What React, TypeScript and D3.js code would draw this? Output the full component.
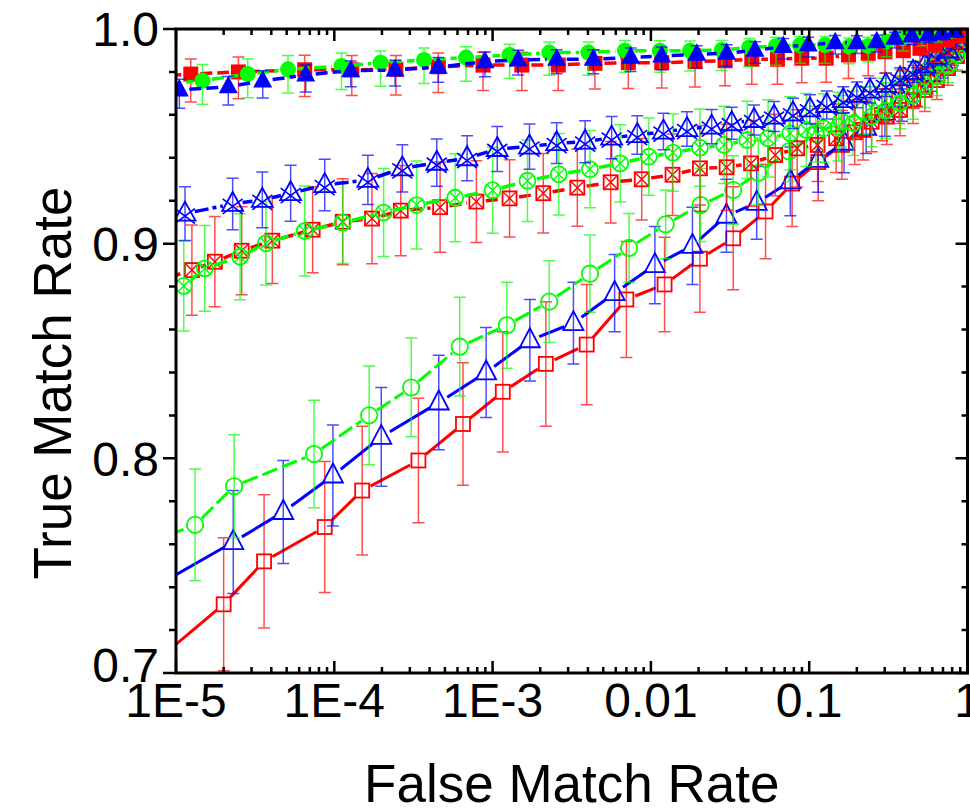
import React from 'react';
import * as d3 from 'd3';

const W = 970;
const H = 811;
const X0 = 176, X1 = 967.5, Y0 = 29, Y1 = 673;

// ---------- DATA (FMR, TMR, error half-widths) ----------
// Open squares (red, solid)
const redOpenFmr = [7.9e-6, 2.0e-5, 3.6e-5, 8.7e-5, 1.5e-4, 3.4e-4, 6.5e-4, 1.16e-3, 2.17e-3, 3.93e-3, 7.0e-3, 1.22e-2, 2.04e-2, 3.31e-2, 5.3e-2, 7.8e-2, 0.114, 0.161, 0.219, 0.288, 0.369, 0.459, 0.562, 0.67, 0.787, 0.897, 0.978];
const redOpenTmr = [0.707, 0.732, 0.752, 0.768, 0.785, 0.799, 0.816, 0.831, 0.844, 0.853, 0.874, 0.881, 0.893, 0.9025, 0.915, 0.928, 0.938, 0.946, 0.953, 0.96, 0.967, 0.973, 0.979, 0.984, 0.989, 0.994, 0.998];
const redOpenErr = [0.031, 0.031, 0.031, 0.0305, 0.03, 0.029, 0.0285, 0.028, 0.029, 0.028, 0.027, 0.022, 0.025, 0.024, 0.022, 0.02, 0.018, 0.016, 0.014, 0.012, 0.011, 0.01, 0.009, 0.008, 0.007, 0.005, 0.004];

// Open triangles (blue, solid)
const blueOpenFmr = [7.9e-6, 2.3e-5, 4.76e-5, 9.8e-5, 1.98e-4, 4.57e-4, 9.1e-4, 1.72e-3, 3.24e-3, 5.9e-3, 1.06e-2, 1.83e-2, 3.0e-2, 4.66e-2, 7.6e-2, 0.114, 0.166, 0.229, 0.301, 0.386, 0.48, 0.588, 0.7, 0.81, 0.91, 0.99];
const blueOpenTmr = [0.7415, 0.761, 0.775, 0.792, 0.81, 0.826, 0.84, 0.855, 0.863, 0.877, 0.89, 0.899, 0.913, 0.919, 0.929, 0.939, 0.947, 0.954, 0.961, 0.967, 0.973, 0.979, 0.984, 0.989, 0.994, 0.998];
const blueOpenErr = [0.024, 0.024, 0.024, 0.0235, 0.023, 0.022, 0.021, 0.019, 0.019, 0.018, 0.018, 0.018, 0.017, 0.017, 0.016, 0.015, 0.014, 0.012, 0.011, 0.01, 0.009, 0.008, 0.007, 0.006, 0.005, 0.004];

// Open circles (green, dashed)
const greenOpenFmr = [7.9e-6, 1.32e-5, 2.33e-5, 7.45e-5, 1.66e-4, 3.06e-4, 6.2e-4, 1.23e-3, 2.28e-3, 4.12e-3, 7.28e-3, 1.24e-2, 2.06e-2, 3.31e-2, 4.77e-2, 7.45e-2, 0.11, 0.159, 0.219, 0.292, 0.375, 0.473, 0.58, 0.69, 0.8, 0.91, 0.99];
const greenOpenTmr = [0.7626, 0.769, 0.787, 0.802, 0.82, 0.833, 0.852, 0.862, 0.873, 0.886, 0.898, 0.909, 0.918, 0.925, 0.933, 0.943, 0.951, 0.957, 0.962, 0.967, 0.972, 0.977, 0.982, 0.986, 0.99, 0.994, 0.998];
const greenOpenErr = [0.026, 0.026, 0.024, 0.025, 0.023, 0.023, 0.023, 0.02, 0.019, 0.018, 0.016, 0.016, 0.017, 0.016, 0.015, 0.014, 0.013, 0.012, 0.011, 0.01, 0.009, 0.008, 0.007, 0.006, 0.005, 0.004, 0.003];

// Crossed squares (red, dashed)
const redXFmr = [7.9e-6, 1.26e-5, 1.76e-5, 2.6e-5, 4.06e-5, 7.3e-5, 1.13e-4, 1.73e-4, 2.63e-4, 4.66e-4, 7.9e-4, 1.28e-3, 2.09e-3, 3.43e-3, 5.57e-3, 8.75e-3, 1.37e-2, 2.04e-2, 3.01e-2, 4.29e-2, 6.1e-2, 8.4e-2, 0.113, 0.148, 0.194, 0.248, 0.309, 0.375, 0.453, 0.538, 0.641, 0.753, 0.859, 0.95];
const redXTmr = [0.883, 0.8877, 0.8916, 0.8967, 0.9014, 0.9065, 0.9102, 0.9117, 0.9154, 0.917, 0.9196, 0.9211, 0.9235, 0.9261, 0.9286, 0.93, 0.9321, 0.9351, 0.9356, 0.9374, 0.9413, 0.9444, 0.946, 0.9491, 0.9519, 0.9568, 0.9592, 0.9623, 0.967, 0.9716, 0.9762, 0.9818, 0.9874, 0.9925];
const redXErr = [0.021, 0.021, 0.021, 0.0205, 0.02, 0.02, 0.02, 0.021, 0.021, 0.021, 0.019, 0.018, 0.0185, 0.018, 0.019, 0.019, 0.019, 0.02, 0.02, 0.02, 0.019, 0.018, 0.017, 0.016, 0.015, 0.014, 0.013, 0.012, 0.011, 0.01, 0.009, 0.008, 0.007, 0.006];

// Crossed circles (green, dashed)
const greenXFmr = [1.12e-5, 1.52e-5, 2.54e-5, 3.7e-5, 6.5e-5, 1.13e-4, 2.05e-4, 3.31e-4, 5.8e-4, 1.0e-3, 1.66e-3, 2.62e-3, 4.12e-3, 6.4e-3, 9.7e-3, 1.38e-2, 2.04e-2, 2.9e-2, 4.06e-2, 5.5e-2, 7.6e-2, 9.6e-2, 0.123, 0.153, 0.19, 0.248, 0.305, 0.375, 0.453, 0.538, 0.641, 0.753, 0.859, 0.95];
const greenXTmr = [0.8803, 0.8885, 0.8939, 0.9002, 0.9059, 0.9098, 0.9145, 0.918, 0.9214, 0.9249, 0.9293, 0.9323, 0.9347, 0.9374, 0.9405, 0.9424, 0.9447, 0.946, 0.9483, 0.9491, 0.9514, 0.953, 0.9538, 0.9545, 0.9561, 0.9592, 0.962, 0.9655, 0.969, 0.9734, 0.978, 0.983, 0.988, 0.994];
const greenXErr = [0.021, 0.02, 0.02, 0.0195, 0.021, 0.019, 0.0205, 0.0205, 0.0205, 0.02, 0.019, 0.019, 0.018, 0.018, 0.018, 0.018, 0.018, 0.018, 0.018, 0.018, 0.017, 0.017, 0.016, 0.016, 0.015, 0.014, 0.013, 0.012, 0.011, 0.01, 0.009, 0.008, 0.007, 0.006];

// Crossed triangles (blue, dash-dot)
const blueXFmr = [1.14e-5, 2.28e-5, 3.51e-5, 5.3e-5, 8.7e-5, 1.63e-4, 2.69e-4, 4.44e-4, 6.9e-4, 1.07e-3, 1.71e-3, 2.54e-3, 3.84e-3, 5.65e-3, 8.2e-3, 1.2e-2, 1.69e-2, 2.42e-2, 3.24e-2, 4.48e-2, 6.0e-2, 7.9e-2, 0.101, 0.129, 0.164, 0.2, 0.242, 0.305, 0.375, 0.453, 0.538, 0.641, 0.753, 0.859, 0.95];
const blueXTmr = [0.914, 0.9185, 0.9204, 0.9235, 0.9273, 0.9297, 0.9351, 0.9377, 0.9398, 0.9441, 0.9452, 0.9468, 0.9475, 0.9494, 0.9506, 0.9522, 0.9534, 0.9545, 0.9561, 0.9576, 0.9592, 0.9607, 0.9626, 0.9646, 0.9669, 0.9693, 0.9713, 0.974, 0.977, 0.98, 0.983, 0.987, 0.99, 0.994, 0.997];
const blueXErr = [0.0125, 0.012, 0.013, 0.013, 0.012, 0.0115, 0.011, 0.011, 0.0105, 0.0105, 0.0105, 0.0095, 0.0098, 0.0098, 0.009, 0.0085, 0.008, 0.008, 0.0075, 0.007, 0.007, 0.007, 0.0068, 0.0065, 0.0062, 0.006, 0.0058, 0.0055, 0.005, 0.0048, 0.0045, 0.004, 0.0035, 0.003, 0.0025];

// Filled squares (red, dashed)
const redFilledFmr = [7.9e-6, 1.24e-5, 2.48e-5, 6.5e-5, 1.29e-4, 2.45e-4, 4.54e-4, 8.7e-4, 1.53e-3, 2.6e-3, 4.43e-3, 7.2e-3, 1.17e-2, 1.9e-2, 2.94e-2, 4.34e-2, 6.3e-2, 8.97e-2, 0.128, 0.177, 0.236, 0.301, 0.393, 0.501, 0.624, 0.753, 0.871, 0.964];
const redFilledTmr = [0.978, 0.979, 0.98, 0.981, 0.981, 0.9812, 0.9824, 0.9832, 0.9832, 0.9832, 0.984, 0.9843, 0.9843, 0.9848, 0.9852, 0.9859, 0.9859, 0.9864, 0.9864, 0.9879, 0.9887, 0.9894, 0.9899, 0.991, 0.9925, 0.995, 0.997, 0.999];
const redFilledErrUp = [0.007, 0.007, 0.007, 0.0068, 0.0066, 0.0065, 0.0064, 0.006, 0.006, 0.006, 0.006, 0.006, 0.006, 0.006, 0.006, 0.0058, 0.0058, 0.0056, 0.0055, 0.0052, 0.005, 0.0048, 0.0045, 0.004, 0.0035, 0.003, 0.002, 0.001];
const redFilledErrDown = [0.013, 0.013, 0.0125, 0.0125, 0.012, 0.012, 0.012, 0.0118, 0.0118, 0.0118, 0.012, 0.012, 0.0118, 0.0118, 0.0116, 0.0116, 0.0116, 0.0114, 0.0112, 0.011, 0.0105, 0.01, 0.0095, 0.009, 0.008, 0.007, 0.006, 0.005];

// Filled circles (green, dashed)
const greenFilledFmr = [7.9e-6, 1.47e-5, 2.84e-5, 5.1e-5, 1.11e-4, 1.96e-4, 3.69e-4, 6.8e-4, 1.28e-3, 2.28e-3, 4.03e-3, 6.86e-3, 1.14e-2, 1.77e-2, 2.8e-2, 4.17e-2, 6.17e-2, 8.75e-2, 0.126, 0.179, 0.236, 0.309, 0.392, 0.514, 0.638, 0.776];
const greenFilledTmr = [0.9742, 0.9759, 0.979, 0.9812, 0.9828, 0.9843, 0.9856, 0.9867, 0.9879, 0.989, 0.989, 0.9899, 0.9899, 0.9899, 0.9902, 0.9914, 0.9921, 0.9925, 0.9925, 0.9918, 0.9921, 0.9941, 0.9958, 0.9972, 0.998, 0.999];
const greenFilledErrUp = [0.0076, 0.0076, 0.007, 0.0065, 0.006, 0.0055, 0.0055, 0.005, 0.005, 0.005, 0.005, 0.0048, 0.0046, 0.0045, 0.0045, 0.0042, 0.004, 0.004, 0.004, 0.004, 0.004, 0.0035, 0.003, 0.0025, 0.002, 0.001];
const greenFilledErrDown = [0.011, 0.011, 0.011, 0.011, 0.011, 0.011, 0.011, 0.011, 0.011, 0.0105, 0.0105, 0.01, 0.01, 0.0095, 0.0095, 0.009, 0.009, 0.0085, 0.0085, 0.008, 0.0075, 0.007, 0.006, 0.005, 0.004, 0.003];

// Filled triangles (blue, dashed)
const blueFilledFmr = [1.05e-5, 2.14e-5, 3.53e-5, 6.6e-5, 1.27e-4, 2.42e-4, 4.54e-4, 8.95e-4, 1.45e-3, 2.54e-3, 4.33e-3, 7.45e-3, 1.17e-2, 1.95e-2, 3.01e-2, 4.55e-2, 6.86e-2, 9.86e-2, 0.146, 0.2, 0.267, 0.348, 0.444, 0.565, 0.687, 0.834];
const blueFilledTmr = [0.9716, 0.9731, 0.9758, 0.9786, 0.9806, 0.9809, 0.9822, 0.9848, 0.9856, 0.9859, 0.9859, 0.9868, 0.9874, 0.9882, 0.9887, 0.9901, 0.9918, 0.9925, 0.9936, 0.9936, 0.9941, 0.9957, 0.9967, 0.9972, 0.998, 0.999];
const blueFilledErrUp = [0.005, 0.0048, 0.0048, 0.0046, 0.0045, 0.0045, 0.0045, 0.0045, 0.0045, 0.0044, 0.0044, 0.0043, 0.0042, 0.004, 0.004, 0.004, 0.0038, 0.0036, 0.0034, 0.0032, 0.003, 0.0028, 0.0025, 0.002, 0.0015, 0.001];
const blueFilledErrDown = [0.0085, 0.0085, 0.008, 0.008, 0.0075, 0.0075, 0.007, 0.007, 0.007, 0.0068, 0.0068, 0.0066, 0.0064, 0.0062, 0.006, 0.006, 0.0058, 0.0055, 0.0052, 0.005, 0.0048, 0.0045, 0.004, 0.0035, 0.003, 0.0025];

// Axes
const yTickValues = [0.7, 0.8, 0.9, 1.0];
const yTickLabels = ['0.7', '0.8', '0.9', '1.0'];
const xTickValues = [1e-5, 1e-4, 1e-3, 1e-2, 1e-1, 1];
const xTickLabels = ['1E-5', '1E-4', '1E-3', '0.01', '0.1', '1'];
const xTitle = 'False Match Rate';
const yTitle = 'True Match Rate';

const RED = '#ff0000';
const GREEN = '#00ff00';
const BLUE = '#0000ff';

type Kind = 'sqF' | 'ciF' | 'trF' | 'sqO' | 'ciO' | 'trO' | 'sqX' | 'ciX' | 'trX';

interface Series {
  color: string;
  kind: Kind;
  fmr: number[];
  tmr: number[];
  up: number[];
  down: number[];
  dash: string;
  width: number;
}

const seriesList: Series[] = [
  { color: RED, kind: 'sqO', fmr: redOpenFmr, tmr: redOpenTmr, up: redOpenErr, down: redOpenErr, dash: '', width: 3 },
  { color: BLUE, kind: 'trO', fmr: blueOpenFmr, tmr: blueOpenTmr, up: blueOpenErr, down: blueOpenErr, dash: '', width: 3 },
  { color: GREEN, kind: 'ciO', fmr: greenOpenFmr, tmr: greenOpenTmr, up: greenOpenErr, down: greenOpenErr, dash: '16,5', width: 3 },
  { color: RED, kind: 'sqX', fmr: redXFmr, tmr: redXTmr, up: redXErr, down: redXErr, dash: '12,5', width: 3.5 },
  { color: GREEN, kind: 'ciX', fmr: greenXFmr, tmr: greenXTmr, up: greenXErr, down: greenXErr, dash: '14,5', width: 3.5 },
  { color: BLUE, kind: 'trX', fmr: blueXFmr, tmr: blueXTmr, up: blueXErr, down: blueXErr, dash: '14,4,4,4', width: 3.5 },
  { color: RED, kind: 'sqF', fmr: redFilledFmr, tmr: redFilledTmr, up: redFilledErrUp, down: redFilledErrDown, dash: '12,5', width: 3.5 },
  { color: GREEN, kind: 'ciF', fmr: greenFilledFmr, tmr: greenFilledTmr, up: greenFilledErrUp, down: greenFilledErrDown, dash: '12,5', width: 3.5 },
  { color: BLUE, kind: 'trF', fmr: blueFilledFmr, tmr: blueFilledTmr, up: blueFilledErrUp, down: blueFilledErrDown, dash: '12,5', width: 3.5 },
];

const xScale = d3.scaleLog().domain([1e-5, 1]).range([X0, X1]);
const yScale = d3.scaleLinear().domain([0.7, 1.0]).range([Y1, Y0]);

function gapOf(kind: Kind): number {
  if (kind.startsWith('tr')) return 10;
  return 9.5;
}

function Marker({ kind, color, x, y }: { kind: Kind; color: string; x: number; y: number }) {
  const sw = 1.8;
  const t = `translate(${x},${y})`;
  switch (kind) {
    case 'sqF':
      return <rect transform={t} x={-7.5} y={-7.5} width={15} height={15} fill={color} />;
    case 'ciF':
      return <circle transform={t} r={8} fill={color} />;
    case 'trF':
      return <path transform={t} d="M0,-11L9.5,6.5L-9.5,6.5Z" fill={color} />;
    case 'sqO':
      return <rect transform={t} x={-7} y={-7} width={14} height={14} fill="none" stroke={color} strokeWidth={sw} />;
    case 'ciO':
      return <circle transform={t} r={8.2} fill="none" stroke={color} strokeWidth={sw} />;
    case 'trO':
      return <path transform={t} d="M0,-12L10,7L-10,7Z" fill="none" stroke={color} strokeWidth={sw} />;
    case 'sqX':
      return (
        <g transform={t} fill="none" stroke={color} strokeWidth={sw}>
          <rect x={-7} y={-7} width={14} height={14} />
          <path d="M-7,-7L7,7M7,-7L-7,7" strokeWidth={1.4} />
        </g>
      );
    case 'ciX':
      return (
        <g transform={t} fill="none" stroke={color} strokeWidth={sw}>
          <circle r={8} />
          <path d="M-5.7,-5.7L5.7,5.7M5.7,-5.7L-5.7,5.7" strokeWidth={1.4} />
        </g>
      );
    case 'trX':
      return (
        <g transform={t} fill="none" stroke={color} strokeWidth={sw}>
          <path d="M0,-12L10.5,7L-10.5,7Z" />
          <path d="M-10,-5L10,10M10,-5L-10,10" strokeWidth={1.6} />
        </g>
      );
  }
  return null;
}

function SeriesView({ s }: { s: Series }) {
  const pts = s.fmr.map((f, i) => ({ x: xScale(f), y: yScale(s.tmr[i]), i }));
  const gap = gapOf(s.kind);
  const segs: string[] = [];
  for (let i = 0; i < pts.length - 1; i++) {
    const p = pts[i], q = pts[i + 1];
    const dx = q.x - p.x, dy = q.y - p.y;
    const d = Math.hypot(dx, dy);
    if (d <= 2 * gap + 1) continue;
    const ux = dx / d, uy = dy / d;
    const path = d3.path();
    path.moveTo(p.x + ux * gap, p.y + uy * gap);
    path.lineTo(q.x - ux * gap, q.y - uy * gap);
    segs.push(path.toString());
  }
  const cap = 6;
  return (
    <g>
      <g stroke={s.color} strokeOpacity={0.7} strokeWidth={1.5} fill="none">
        {pts.map((p) => {
          const yt = yScale(s.tmr[p.i] + s.up[p.i]);
          const yb = yScale(s.tmr[p.i] - s.down[p.i]);
          return (
            <path key={p.i} d={`M${p.x},${yt}V${yb}M${p.x - cap},${yt}H${p.x + cap}M${p.x - cap},${yb}H${p.x + cap}`} />
          );
        })}
      </g>
      <g stroke={s.color} strokeWidth={s.width} fill="none" strokeDasharray={s.dash || undefined}>
        {segs.map((d, i) => (
          <path key={i} d={d} />
        ))}
      </g>
      <g>
        {pts.map((p) => (
          <Marker key={p.i} kind={s.kind} color={s.color} x={p.x} y={p.y} />
        ))}
      </g>
    </g>
  );
}

export default function App() {
  const font = "'Liberation Sans', Arial, Helvetica, sans-serif";
  const majorX = xTickValues;
  const minorX: number[] = [];
  for (let e = -5; e < 0; e++) for (let k = 2; k <= 9; k++) minorX.push(k * Math.pow(10, e));
  const minorY = d3.range(0.72, 1.0, 0.02).filter((v) => Math.abs(v * 10 - Math.round(v * 10)) > 1e-6);

  const tickPath: string[] = [];
  majorX.forEach((v) => {
    const x = xScale(v);
    tickPath.push(`M${x},${Y1}V${Y1 - 12}`, `M${x},${Y0}V${Y0 + 12}`);
  });
  minorX.forEach((v) => {
    const x = xScale(v);
    tickPath.push(`M${x},${Y1}V${Y1 - 6}`, `M${x},${Y0}V${Y0 + 6}`);
  });
  yTickValues.forEach((v) => {
    const y = yScale(v);
    tickPath.push(`M${X0},${y}H${X0 - 13}`, `M${X1},${y}H${X1 - 12}`);
  });
  minorY.forEach((v) => {
    const y = yScale(v);
    tickPath.push(`M${X0},${y}H${X0 - 7}`, `M${X1},${y}H${X1 - 6}`);
  });

  return (
    <div style={{ position: 'fixed', left: 0, top: 0, width: W, height: H, overflow: 'hidden', background: '#fff' }}>
      <svg width={W} height={H} style={{ display: 'block' }} fontFamily={font}>
        <defs>
          <clipPath id="plotClip">
            <rect x={X0} y={Y0} width={X1 - X0} height={Y1 - Y0} />
          </clipPath>
        </defs>
        <rect x={0} y={0} width={W} height={H} fill="#fff" />
        <g clipPath="url(#plotClip)">
          {seriesList.map((s, i) => (
            <SeriesView key={i} s={s} />
          ))}
        </g>
        <path d={tickPath.join('')} stroke="#000" strokeWidth={2.5} fill="none" />
        <rect x={X0} y={Y0} width={X1 - X0} height={Y1 - Y0} fill="none" stroke="#000" strokeWidth={3} />
        <g fontSize={48} fill="#000">
          {yTickValues.map((v, i) => (
            <text key={i} x={X0 - 17} y={yScale(v) - (i === 0 ? 8 : 0)} dy="0.36em" textAnchor="end">
              {yTickLabels[i]}
            </text>
          ))}
          {xTickValues.map((v, i) => (
            <text key={i} x={xScale(v)} y={Y1 + 44} textAnchor="middle">
              {xTickLabels[i]}
            </text>
          ))}
        </g>
        <text x={(X0 + X1) / 2} y={802} fontSize={53} textAnchor="middle" fill="#000">
          {xTitle}
        </text>
        <text transform={`translate(71,383) rotate(-90)`} fontSize={53} textAnchor="middle" fill="#000">
          {yTitle}
        </text>
      </svg>
    </div>
  );
}
